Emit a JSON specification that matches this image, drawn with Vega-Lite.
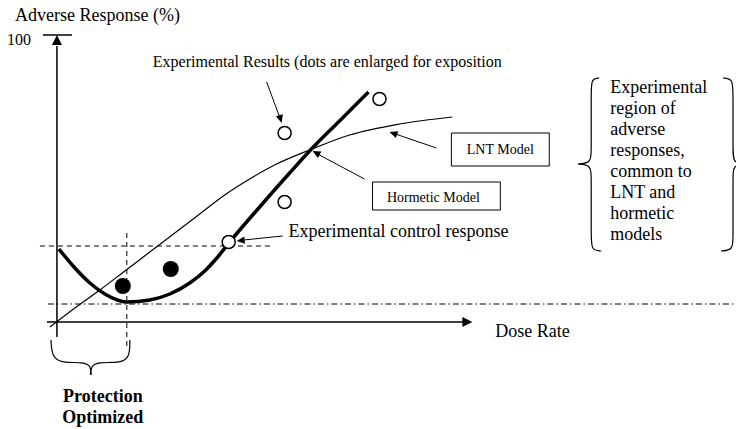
{
  "$schema": "https://vega.github.io/schema/vega-lite/v6.json",
  "width": 737,
  "height": 429,
  "autosize": {"type": "fit", "contains": "padding"},
  "padding": 0,
  "background": "white",
  "view": {"stroke": null},
  "config": {"text": {"font": "Liberation Serif", "color": "black"}},
  "datasets": {
    "segs": [
      {"k": "axis", "x": 57, "y": 46, "x2": 57, "y2": 337},
      {"k": "axis", "x": 43, "y": 35, "x2": 72, "y2": 35},
      {"k": "axis", "x": 47, "y": 322, "x2": 466, "y2": 322},
      {"k": "dash", "x": 40, "y": 246, "x2": 273, "y2": 246},
      {"k": "dash", "x": 127, "y": 233, "x2": 127, "y2": 347},
      {"k": "dashdot", "x": 48, "y": 304, "x2": 737, "y2": 304},
      {"k": "ptr", "x": 267, "y": 82, "x2": 280, "y2": 117},
      {"k": "ptr", "x": 437, "y": 148, "x2": 396, "y2": 134},
      {"k": "ptr", "x": 365, "y": 179, "x2": 318, "y2": 154},
      {"k": "ptr", "x": 283, "y": 236, "x2": 244, "y2": 240}
    ],
    "heads": [
      {"k": "big", "x": 57, "y": 35, "dir": 0},
      {"k": "big", "x": 473, "y": 322, "dir": 90},
      {"k": "small", "x": 282, "y": 123, "dir": 164},
      {"k": "small", "x": 390, "y": 132, "dir": 289},
      {"k": "small", "x": 313, "y": 151, "dir": 298},
      {"k": "small", "x": 237, "y": 241, "dir": 264}
    ],
    "curves": [
      {"model": "LNT", "i": 0, "x": 50, "y": 327},
      {"model": "LNT", "i": 1, "x": 75, "y": 308},
      {"model": "LNT", "i": 2, "x": 100, "y": 290},
      {"model": "LNT", "i": 3, "x": 125, "y": 271},
      {"model": "LNT", "i": 4, "x": 150, "y": 252},
      {"model": "LNT", "i": 5, "x": 175, "y": 233},
      {"model": "LNT", "i": 6, "x": 200, "y": 214},
      {"model": "LNT", "i": 7, "x": 225, "y": 195},
      {"model": "LNT", "i": 8, "x": 250, "y": 179},
      {"model": "LNT", "i": 9, "x": 275, "y": 165},
      {"model": "LNT", "i": 10, "x": 310, "y": 150},
      {"model": "LNT", "i": 11, "x": 350, "y": 135},
      {"model": "LNT", "i": 12, "x": 400, "y": 124},
      {"model": "LNT", "i": 13, "x": 453, "y": 117},
      {"model": "Hormetic", "i": 0, "x": 59, "y": 249},
      {"model": "Hormetic", "i": 1, "x": 75, "y": 268},
      {"model": "Hormetic", "i": 2, "x": 90, "y": 283},
      {"model": "Hormetic", "i": 3, "x": 105, "y": 294},
      {"model": "Hormetic", "i": 4, "x": 127, "y": 302},
      {"model": "Hormetic", "i": 5, "x": 150, "y": 300},
      {"model": "Hormetic", "i": 6, "x": 170, "y": 294},
      {"model": "Hormetic", "i": 7, "x": 190, "y": 283},
      {"model": "Hormetic", "i": 8, "x": 205, "y": 271},
      {"model": "Hormetic", "i": 9, "x": 218, "y": 257},
      {"model": "Hormetic", "i": 10, "x": 230, "y": 242},
      {"model": "Hormetic", "i": 11, "x": 260, "y": 207},
      {"model": "Hormetic", "i": 12, "x": 290, "y": 173},
      {"model": "Hormetic", "i": 13, "x": 310, "y": 151},
      {"model": "Hormetic", "i": 14, "x": 340, "y": 121},
      {"model": "Hormetic", "i": 15, "x": 369, "y": 92}
    ],
    "braces": [
      {"part": "L1", "i": 0, "x": 600, "y": 78},
      {"part": "L1", "i": 1, "x": 592, "y": 79},
      {"part": "L1", "i": 2, "x": 592, "y": 92},
      {"part": "L1", "i": 3, "x": 592, "y": 150},
      {"part": "L1", "i": 4, "x": 592, "y": 163},
      {"part": "L1", "i": 5, "x": 579, "y": 164},
      {"part": "L2", "i": 0, "x": 579, "y": 164},
      {"part": "L2", "i": 1, "x": 592, "y": 165},
      {"part": "L2", "i": 2, "x": 592, "y": 178},
      {"part": "L2", "i": 3, "x": 592, "y": 237},
      {"part": "L2", "i": 4, "x": 592, "y": 250},
      {"part": "L2", "i": 5, "x": 602, "y": 251},
      {"part": "R1", "i": 0, "x": 724, "y": 78},
      {"part": "R1", "i": 1, "x": 734, "y": 79},
      {"part": "R1", "i": 2, "x": 734, "y": 92},
      {"part": "R1", "i": 3, "x": 734, "y": 150},
      {"part": "R1", "i": 4, "x": 734, "y": 163},
      {"part": "R1", "i": 5, "x": 746, "y": 164},
      {"part": "R2", "i": 0, "x": 746, "y": 164},
      {"part": "R2", "i": 1, "x": 734, "y": 165},
      {"part": "R2", "i": 2, "x": 734, "y": 178},
      {"part": "R2", "i": 3, "x": 734, "y": 237},
      {"part": "R2", "i": 4, "x": 734, "y": 250},
      {"part": "R2", "i": 5, "x": 722, "y": 251},
      {"part": "B1", "i": 0, "x": 51, "y": 340},
      {"part": "B1", "i": 1, "x": 52, "y": 357},
      {"part": "B1", "i": 2, "x": 62, "y": 363},
      {"part": "B1", "i": 3, "x": 84, "y": 362},
      {"part": "B1", "i": 4, "x": 91, "y": 366},
      {"part": "B1", "i": 5, "x": 91, "y": 375},
      {"part": "B2", "i": 0, "x": 91, "y": 375},
      {"part": "B2", "i": 1, "x": 91, "y": 366},
      {"part": "B2", "i": 2, "x": 98, "y": 362},
      {"part": "B2", "i": 3, "x": 121, "y": 363},
      {"part": "B2", "i": 4, "x": 130, "y": 357},
      {"part": "B2", "i": 5, "x": 130, "y": 340}
    ],
    "dots": [
      {"k": "filled", "x": 123, "y": 286},
      {"k": "filled", "x": 171, "y": 269},
      {"k": "open", "x": 285, "y": 133},
      {"k": "open", "x": 285, "y": 202},
      {"k": "open", "x": 229, "y": 242},
      {"k": "open", "x": 380, "y": 99}
    ],
    "boxes": [
      {"name": "LNT", "x": 452, "y": 133, "x2": 550, "y2": 166},
      {"name": "Hormetic", "x": 373, "y": 182, "x2": 501, "y2": 210}
    ],
    "labels": [
      {"k": "r18", "x": 15, "y": 21, "t": "Adverse Response (%)"},
      {"k": "r16", "x": 7, "y": 45, "t": "100"},
      {"k": "r16", "x": 153, "y": 67, "t": "Experimental Results (dots are enlarged for exposition"},
      {"k": "c14", "x": 501, "y": 154, "t": "LNT Model"},
      {"k": "c14", "x": 434, "y": 202, "t": "Hormetic Model"},
      {"k": "r18", "x": 289, "y": 237, "t": "Experimental control response"},
      {"k": "r18", "x": 496, "y": 337, "t": "Dose Rate"},
      {"k": "r18", "x": 611, "y": 93, "t": "Experimental"},
      {"k": "r18", "x": 611, "y": 114, "t": "region of"},
      {"k": "r18", "x": 611, "y": 135, "t": "adverse"},
      {"k": "r18", "x": 611, "y": 156, "t": "responses,"},
      {"k": "r18", "x": 611, "y": 177, "t": "common to"},
      {"k": "r18", "x": 611, "y": 198, "t": "LNT and"},
      {"k": "r18", "x": 611, "y": 219, "t": "hormetic"},
      {"k": "r18", "x": 611, "y": 240, "t": "models"},
      {"k": "b18", "x": 103, "y": 402, "t": "Protection"},
      {"k": "b18", "x": 103, "y": 423, "t": "Optimized"}
    ]
  },
  "encoding": {
    "x": {"field": "x", "type": "quantitative", "axis": null, "scale": {"domain": [0, 737], "nice": false, "zero": false}},
    "y": {"field": "y", "type": "quantitative", "axis": null, "scale": {"domain": [0, 429], "nice": false, "zero": false, "reverse": true}}
  },
  "layer": [
    {
      "data": {"name": "segs"},
      "transform": [{"filter": "datum.k === 'axis'"}],
      "mark": {"type": "rule", "color": "black", "strokeWidth": 1.5},
      "encoding": {"x2": {"field": "x2"}, "y2": {"field": "y2"}}
    },
    {
      "data": {"name": "segs"},
      "transform": [{"filter": "datum.k === 'dash'"}],
      "mark": {"type": "rule", "color": "black", "strokeWidth": 1, "strokeDash": [5, 4]},
      "encoding": {"x2": {"field": "x2"}, "y2": {"field": "y2"}}
    },
    {
      "data": {"name": "segs"},
      "transform": [{"filter": "datum.k === 'dashdot'"}],
      "mark": {"type": "rule", "color": "black", "strokeWidth": 1, "strokeDash": [6, 3, 1.5, 3]},
      "encoding": {"x2": {"field": "x2"}, "y2": {"field": "y2"}}
    },
    {
      "data": {"name": "segs"},
      "transform": [{"filter": "datum.k === 'ptr'"}],
      "mark": {"type": "rule", "color": "black", "strokeWidth": 1},
      "encoding": {"x2": {"field": "x2"}, "y2": {"field": "y2"}}
    },
    {
      "data": {"name": "heads"},
      "transform": [{"filter": "datum.k === 'big'"}],
      "mark": {"type": "point", "shape": "M0,0L-0.5,1L0.5,1Z", "filled": true, "color": "black", "opacity": 1, "size": 400},
      "encoding": {"angle": {"field": "dir", "type": "quantitative", "scale": null}}
    },
    {
      "data": {"name": "heads"},
      "transform": [{"filter": "datum.k === 'small'"}],
      "mark": {"type": "point", "shape": "M0,0L-0.45,1L0.45,1Z", "filled": true, "color": "black", "opacity": 1, "size": 256},
      "encoding": {"angle": {"field": "dir", "type": "quantitative", "scale": null}}
    },
    {
      "data": {"name": "curves"},
      "transform": [{"filter": "datum.model === 'LNT'"}],
      "mark": {"type": "line", "color": "black", "strokeWidth": 1.2, "interpolate": "monotone"},
      "encoding": {"order": {"field": "i", "type": "quantitative"}}
    },
    {
      "data": {"name": "curves"},
      "transform": [{"filter": "datum.model === 'Hormetic'"}],
      "mark": {"type": "line", "color": "black", "strokeWidth": 3.5, "interpolate": "monotone"},
      "encoding": {"order": {"field": "i", "type": "quantitative"}}
    },
    {
      "data": {"name": "braces"},
      "mark": {"type": "line", "color": "black", "strokeWidth": 1.2, "interpolate": "basis", "clip": true},
      "encoding": {"detail": {"field": "part"}, "order": {"field": "i", "type": "quantitative"}}
    },
    {
      "data": {"name": "boxes"},
      "mark": {"type": "rect", "fill": "white", "stroke": "black", "strokeWidth": 1},
      "encoding": {"x2": {"field": "x2"}, "y2": {"field": "y2"}}
    },
    {
      "data": {"name": "dots"},
      "transform": [{"filter": "datum.k === 'filled'"}],
      "mark": {"type": "point", "shape": "circle", "filled": true, "color": "black", "opacity": 1, "size": 256}
    },
    {
      "data": {"name": "dots"},
      "transform": [{"filter": "datum.k === 'open'"}],
      "mark": {"type": "point", "shape": "circle", "fill": "white", "fillOpacity": 1, "stroke": "black", "strokeWidth": 1.5, "opacity": 1, "size": 170}
    },
    {
      "data": {"name": "labels"},
      "transform": [{"filter": "datum.k === 'r18'"}],
      "mark": {"type": "text", "fontSize": 18, "align": "left", "baseline": "alphabetic"},
      "encoding": {"text": {"field": "t"}}
    },
    {
      "data": {"name": "labels"},
      "transform": [{"filter": "datum.k === 'r16'"}],
      "mark": {"type": "text", "fontSize": 16, "align": "left", "baseline": "alphabetic"},
      "encoding": {"text": {"field": "t"}}
    },
    {
      "data": {"name": "labels"},
      "transform": [{"filter": "datum.k === 'c14'"}],
      "mark": {"type": "text", "fontSize": 14, "align": "center", "baseline": "alphabetic"},
      "encoding": {"text": {"field": "t"}}
    },
    {
      "data": {"name": "labels"},
      "transform": [{"filter": "datum.k === 'b18'"}],
      "mark": {"type": "text", "fontSize": 18, "fontWeight": "bold", "align": "center", "baseline": "alphabetic"},
      "encoding": {"text": {"field": "t"}}
    }
  ]
}
